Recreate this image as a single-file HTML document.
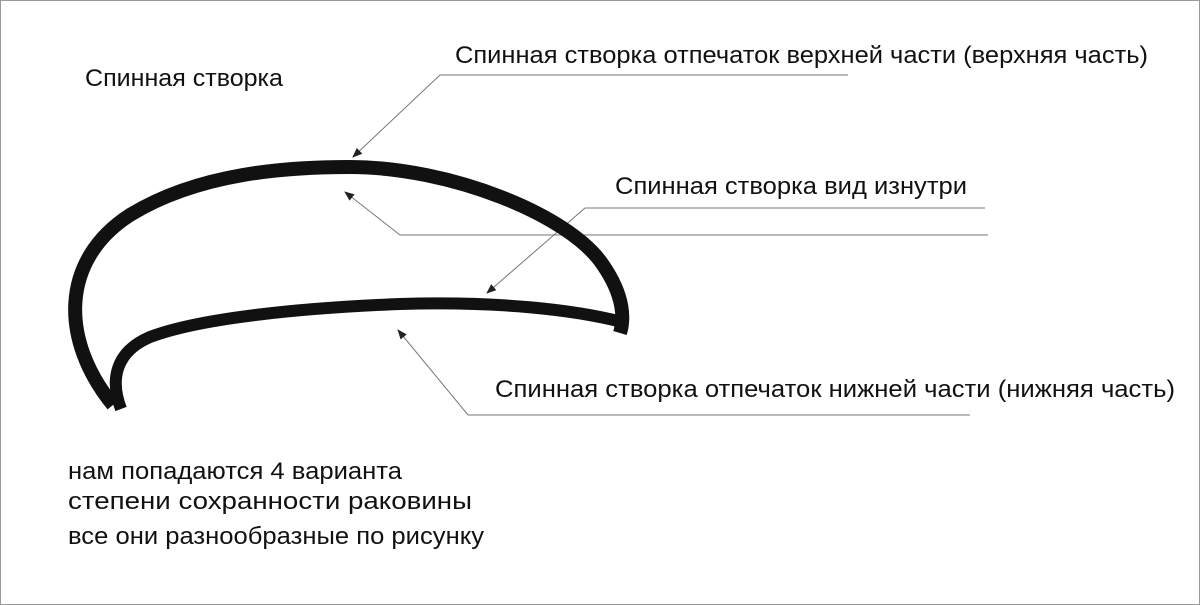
<!DOCTYPE html>
<html><head><meta charset="utf-8"><style>
html,body{margin:0;padding:0;background:#fff}
svg{display:block}
text{font-family:"Liberation Sans",sans-serif;font-size:24.5px;fill:#111}
</style></head><body>
<svg width="1200" height="605" viewBox="0 0 1200 605">
<defs><marker id="a" markerWidth="10" markerHeight="8" refX="9" refY="4" orient="auto" markerUnits="userSpaceOnUse"><path d="M0,0 L10,4 L0,8 Z" fill="#222"/></marker></defs>
<rect x="0.5" y="0.5" width="1199" height="604" fill="#fff" stroke="#999"/>
<text x="85" y="86" textLength="198" lengthAdjust="spacingAndGlyphs">Спинная створка</text>
<text x="455" y="63" textLength="693" lengthAdjust="spacingAndGlyphs">Спинная створка отпечаток верхней части (верхняя часть)</text>
<text x="615" y="194" textLength="352" lengthAdjust="spacingAndGlyphs">Спинная створка вид изнутри</text>
<text x="495" y="397" textLength="680" lengthAdjust="spacingAndGlyphs">Спинная створка отпечаток нижней части (нижняя часть)</text>
<text x="68" y="479" textLength="334" lengthAdjust="spacingAndGlyphs">нам попадаются 4 варианта</text>
<text x="68" y="509" textLength="404" lengthAdjust="spacingAndGlyphs">степени сохранности раковины</text>
<text x="68" y="544" textLength="416" lengthAdjust="spacingAndGlyphs">все они разнообразные по рисунку</text>
<g stroke="#777" stroke-width="1" fill="none">
<polyline points="848,75 440,75 353,157" marker-end="url(#a)"/>
<polyline points="985,208 585,208 487,293" marker-end="url(#a)"/>
<polyline points="988,235 400,235 345,192" marker-end="url(#a)"/>
<polyline points="970,415 468,415 398,330" marker-end="url(#a)"/>
</g>
<g fill="none" stroke="#111" stroke-width="14">
<path d="M113 405 C60 340,60 260,130 215 C200 172,290 167,350 167 C450 167,570 215,603 265 C625 297,624 320,620 333"/>
<path d="M121 409 C110 380,115 352,150 337 C200 318,300 308,400 304 C500 301,575 310,622 322" stroke-width="12"/>
</g>
</svg>
</body></html>
